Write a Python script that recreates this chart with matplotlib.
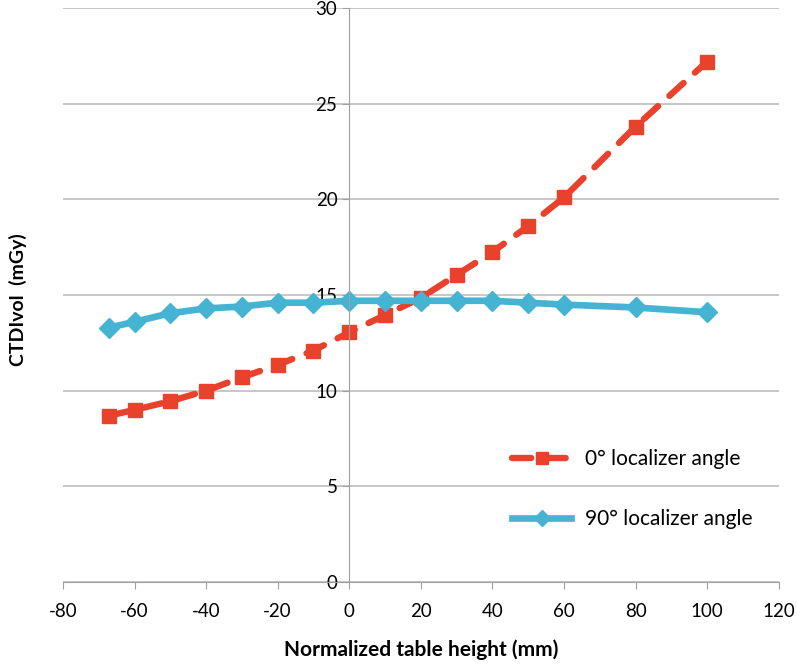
import numpy as np
import matplotlib.pyplot as plt

# table height (mm) and CTDIvol (mGy)
height = [-67, -60, -50, -40, -30, -20, -10, 0, 10, 20, 30, 40, 50, 60, 80, 100]
ctdi_0 = [8.7, 9.0, 9.45, 10.0, 10.7, 11.35, 12.1, 13.05, 13.95, 14.85,
          16.05, 17.25, 18.6, 20.1, 23.8, 27.2]
ctdi_90 = [13.3, 13.6, 14.05, 14.3, 14.4, 14.6, 14.6, 14.7, 14.7, 14.7,
           14.7, 14.7, 14.6, 14.5, 14.35, 14.1]

plt.rcParams['font.family'] = ['Lato', 'DejaVu Sans']
plt.rcParams['axes.unicode_minus'] = False

fig = plt.figure(figsize=(7.97, 6.66), dpi=100)
ax = fig.add_axes([0.079, 0.126, 0.898, 0.862])

ax.plot(height, ctdi_0, color="#E8412C", lw=4.6, ls=(0, (3.0, 2.4)),
        marker="s", ms=10, dash_capstyle="round", label="0° localizer angle")
ax.plot(height, ctdi_90, color="#45B3D2", lw=4.8, marker="D", ms=10,
        label="90° localizer angle")

ax.set_xlim(-80, 120)
ax.set_ylim(0, 30)
ax.set_xticks(np.arange(-80, 121, 20))
ax.set_yticks(np.arange(0, 31, 5))
ax.grid(axis="y", color="#BDBDBD", lw=1.2)
ax.set_axisbelow(True)

for s in ["top", "right"]:
    ax.spines[s].set_visible(False)
ax.spines["left"].set_position(("data", 0))
ax.spines["left"].set_color("#A0A0A0")
ax.spines["bottom"].set_color("#A0A0A0")
ax.tick_params(axis="both", colors="#A0A0A0", labelcolor="black",
               labelsize=13.5, length=5)
ax.tick_params(axis="x", pad=10)

ax.set_xlabel("Normalized table height (mm)", fontsize=15, fontweight="bold",
              labelpad=14)
fig.text(0.022, 0.55, "CTDIvol  (mGy)", rotation=90, fontsize=14,
         fontweight="bold", ha="center", va="center")

ax.legend(loc="lower right", bbox_to_anchor=(0.99, 0.06), frameon=False,
          fontsize=15, labelspacing=1.9, handlelength=2.8, handletextpad=0.7,
          markerscale=0.8)

fig.savefig("out.png", dpi=100)
